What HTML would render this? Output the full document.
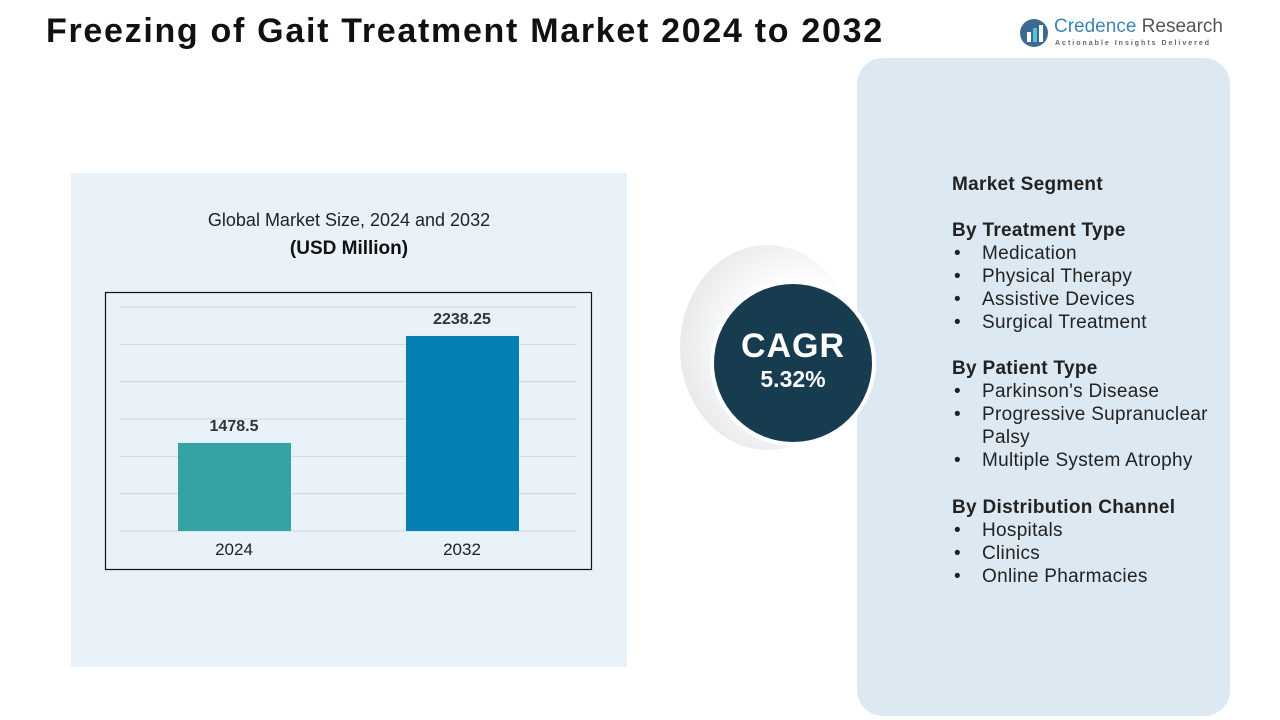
<!DOCTYPE html>
<html><head><meta charset="utf-8"><style>
body{margin:0;width:1280px;height:720px;position:relative;background:#fff;font-family:"Liberation Sans",sans-serif;overflow:hidden}
.abs{position:absolute}
.seg{font-size:19px;color:#222;line-height:23px;letter-spacing:0.3px}
.seg b{font-size:19px}
.seg li{list-style:none;position:relative;padding-left:30px}
.seg li:before{content:"•";position:absolute;left:2px}
ul{margin:0;padding:0}
</style></head><body>
<div class="abs" style="left:46px;top:12px;font-size:34px;font-weight:bold;color:#111;letter-spacing:1.7px">Freezing of Gait Treatment Market 2024 to 2032</div>
<div class="abs" style="left:1018px;top:15px;width:210px;height:34px">
<svg width="32" height="32" style="position:absolute;left:0;top:2px"><circle cx="16" cy="16" r="14" fill="#3d6a8f"/><rect x="9" y="15" width="4" height="10" fill="#fff"/><rect x="15" y="11" width="4" height="14" fill="#5bc0de"/><rect x="21" y="8" width="4" height="17" fill="#fff"/></svg>
<div class="abs" style="left:36px;top:1px;font-size:19px;color:#3d84b8;white-space:nowrap">Credence <span style="color:#555">Research</span></div>
<div class="abs" style="left:37px;top:25px;font-size:7px;letter-spacing:2px;color:#666;white-space:nowrap;font-weight:bold">Actionable Insights Delivered</div>
</div>
<div class="abs" style="left:71px;top:173px;width:556px;height:494px;background:#e9f2f9"></div>
<div class="abs" style="left:71px;top:210px;width:556px;text-align:center;font-size:18px;color:#222">Global Market Size, 2024 and 2032</div>
<div class="abs" style="left:71px;top:238px;width:556px;text-align:center;font-size:19px;font-weight:bold;color:#111">(USD Million)</div>
<svg class="abs" id="chart" style="left:0;top:0" width="1280" height="720">
<rect x="105.5" y="292.5" width="486" height="277" fill="none" stroke="#111" stroke-width="1.2"/>
</svg>
<div class="abs" style="left:857px;top:58px;width:373px;height:658px;border-radius:26px;background:#dde9f2"></div>
<div class="abs" style="left:680px;top:245px;width:175px;height:205px;border-radius:50%;background:radial-gradient(circle at 70% 50%,#fff 40%,#d4d8dc 100%);opacity:.9"></div>
<div class="abs" style="left:710px;top:280px;width:166px;height:166px;border-radius:50%;background:#173c4f;border:4px solid #fff;box-sizing:border-box;color:#fff;text-align:center">
<div style="font-size:34px;font-weight:bold;margin-top:44px;line-height:36px;letter-spacing:1px">CAGR</div>
<div style="font-size:23px;font-weight:bold;line-height:30px">5.32%</div></div>
<div class="abs seg" style="left:952px;top:173px;width:275px">
<b>Market Segment</b><br><br>
<b>By Treatment Type</b>
<ul><li>Medication</li><li>Physical Therapy</li><li>Assistive Devices</li><li>Surgical Treatment</li></ul>
<div style="height:23px"></div>
<b>By Patient Type</b>
<ul><li>Parkinson's Disease</li><li>Progressive Supranuclear Palsy</li><li>Multiple System Atrophy</li></ul>
<div style="height:24px"></div>
<b>By Distribution Channel</b>
<ul><li>Hospitals</li><li>Clinics</li><li>Online Pharmacies</li></ul>
</div>
<script>
const categories=["2024","2032"];
const values=[1478.5,2238.25];
const labels=["1478.5","2238.25"];
const colors=["#35a3a3","#0680b2"];
const yMin=853,yMax=2444,plotTop=307,plotBottom=531,plotLeft=120,plotRight=576;
const y=v=>plotBottom-(v-yMin)/(yMax-yMin)*(plotBottom-plotTop);
const xc=i=>178+56+i*228;
const svg=document.getElementById('chart');const NS="http://www.w3.org/2000/svg";
for(let g=0;g<7;g++){const l=document.createElementNS(NS,'line');const yy=plotBottom-g*(plotBottom-plotTop)/6;
l.setAttribute('x1',plotLeft);l.setAttribute('x2',plotRight);l.setAttribute('y1',yy);l.setAttribute('y2',yy);l.setAttribute('stroke','#d0d6da');


svg.appendChild(l);}
categories.forEach((c,i)=>{
const r=document.createElementNS(NS,'rect');r.setAttribute('x',xc(i)-56);r.setAttribute('width',113);r.setAttribute('y',y(values[i]));r.setAttribute('height',plotBottom-y(values[i]));r.setAttribute('fill',colors[i]);


svg.appendChild(r);
const t=document.createElementNS(NS,'text');t.setAttribute('x',xc(i));t.setAttribute('y',y(values[i])-12);t.setAttribute('text-anchor','middle');t.setAttribute('font-size','16');t.setAttribute('font-weight','bold');t.setAttribute('fill','#333');t.textContent=labels[i];


svg.appendChild(t);
const a=document.createElementNS(NS,'text');a.setAttribute('x',xc(i));a.setAttribute('y',555);a.setAttribute('text-anchor','middle');a.setAttribute('font-size','17');a.setAttribute('fill','#222');a.textContent=c;


svg.appendChild(a);
});
</script>
</body></html>
